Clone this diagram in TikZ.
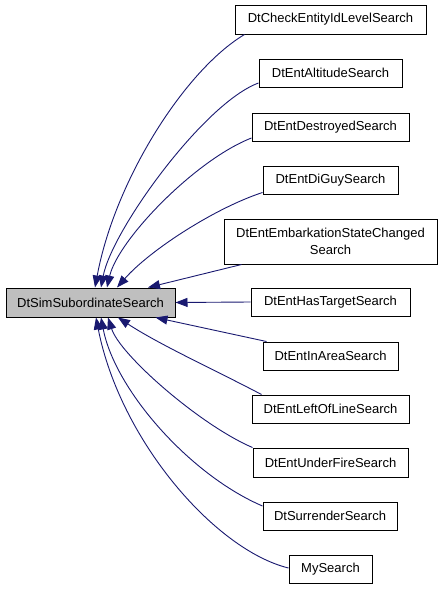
\documentclass[tikz,border=0pt]{standalone}
\usepackage{fontspec}
\setmainfont{Liberation Sans}
\usetikzlibrary{arrows.meta}
\definecolor{edgeblue}{HTML}{191970}
\definecolor{maingray}{HTML}{BFBFBF}
\tikzset{
  box/.style={draw=black, line width=1pt, fill=white, minimum height=28pt, inner sep=0pt,
    font=\fontsize{13}{17}\selectfont, align=center},
  mainbox/.style={box, fill=maingray},
  edge/.style={draw=edgeblue, line width=0.9pt, -{Triangle[length=12pt,width=9pt]}}
}
\begin{document}
\begin{tikzpicture}[x=1pt,y=-1pt]
\useasboundingbox (0,0) rectangle (443,589);
\node[mainbox, minimum width=169pt, minimum height=29pt] (main) at (90.5,302.5) {DtSimSubordinateSearch};
\node[box, minimum width=191pt, minimum height=29pt] (check) at (330.5,19.5) {DtCheckEntityIdLevelSearch};
\node[box, minimum width=143pt] (alt) at (330.5,73) {DtEntAltitudeSearch};
\node[box, minimum width=157pt] (destr) at (330.5,127) {DtEntDestroyedSearch};
\node[box, minimum width=135pt] (diguy) at (330.5,180) {DtEntDiGuySearch};
\node[box, minimum width=213pt, minimum height=45pt] (embark) at (330.5,241.5) {DtEntEmbarkationStateChanged\\Search};
\node[box, minimum width=159pt] (target) at (330.5,302) {DtEntHasTargetSearch};
\node[box, minimum width=135pt] (area) at (330.5,356) {DtEntInAreaSearch};
\node[box, minimum width=157pt] (left) at (330.5,409) {DtEntLeftOfLineSearch};
\node[box, minimum width=155pt, minimum height=29pt] (fire) at (330.5,462.5) {DtEntUnderFireSearch};
\node[box, minimum width=134pt] (surr) at (330,516) {DtSurrenderSearch};
\node[box, minimum width=83pt] (my) at (330.5,569) {MySearch};

\draw[edge] ([xshift=10pt]check.south west) .. controls (185,70) and (115,180) .. ([xshift=4.5pt]main.north);
\draw[edge] ([yshift=-10pt]alt.west) .. controls (204,103) and (112,230) .. ([xshift=10.5pt]main.north);
\draw[edge] ([yshift=-11pt]destr.west) .. controls (195,160) and (118,240) .. ([xshift=16.5pt]main.north);
\draw[edge] ([yshift=2pt]diguy.south west) .. controls (215,208) and (150,250) .. ([xshift=26.5pt]main.north);
\draw[edge] ([xshift=18pt]embark.south west) -- ([xshift=57.5pt]main.north);
\draw[edge] (target.west) -- (main.east);
\draw[edge] ([xshift=4pt]area.north west) -- ([xshift=-20pt]main.south east);
\draw[edge] ([xshift=10pt]left.north west) .. controls (215,370) and (160,345) .. ([xshift=27.5pt]main.south);
\draw[edge] (fire.north west) .. controls (200,425) and (120,355) .. ([xshift=17.5pt]main.south);
\draw[edge] ([yshift=10pt]surr.west) .. controls (190,475) and (115,390) .. ([xshift=10.5pt]main.south);
\draw[edge] ([yshift=1pt]my.west) .. controls (215,550) and (120,440) .. ([xshift=5.5pt]main.south);
\end{tikzpicture}
\end{document}
